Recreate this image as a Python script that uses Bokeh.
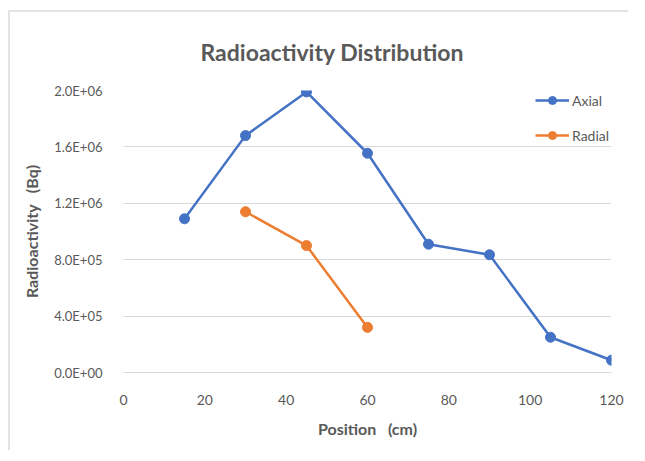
from bokeh.plotting import figure
from bokeh.models import FixedTicker, CustomJSTickFormatter, Legend, LegendItem, Range1d
from bokeh.embed import file_html
from bokeh.resources import INLINE

axial_x = [15, 30, 45, 60, 75, 90, 105, 120]
axial_y = [1.09e6, 1.68e6, 1.99e6, 1.555e6, 0.91e6, 0.835e6, 0.25e6, 0.087e6]
radial_x = [30, 45, 60]
radial_y = [1.14e6, 0.90e6, 0.32e6]
x_ticks = [0, 20, 40, 60, 80, 100, 120]
y_ticks = [0, 4e5, 8e5, 1.2e6, 1.6e6, 2.0e6]

FONT = "Lato"
GRAY = "#595959"

p = figure(width=620, height=440, output_backend="svg", toolbar_location=None,
           x_range=Range1d(0, 120), y_range=Range1d(0, 2.0e6),
           min_border_left=113, min_border_right=19, min_border_top=78, min_border_bottom=80)
p.outline_line_color = None
p.margin = (10, 0, 0, 8)
p.styles = {"border-left": "2px solid #e3e3e3", "border-top": "2px solid #e3e3e3"}

p.title.text = "Radioactivity Distribution"
p.title.align = "left"
p.title.text_font = FONT
p.title.text_font_size = "23px"
p.title.text_color = GRAY
p.title.text_font_style = "bold"
p.title.vertical_align = "top"
p.title.offset = 77
p.title.standoff = 45

fmt = CustomJSTickFormatter(code="""
const s = tick.toExponential(1).toUpperCase();
const parts = s.split("E");
const sign = parts[1][0];
const d = parts[1].slice(1).padStart(2, "0");
return parts[0] + "E" + sign + d;
""")

p.xaxis.ticker = FixedTicker(ticks=x_ticks)
p.yaxis.ticker = FixedTicker(ticks=y_ticks)
p.yaxis.formatter = fmt
for ax in (p.xaxis[0], p.yaxis[0]):
    ax.major_tick_line_color = None
    ax.minor_tick_line_color = None
    ax.major_label_text_font = FONT
    ax.major_label_text_font_size = "13px"
    ax.major_label_text_color = GRAY
    ax.axis_label_text_font = FONT
    ax.axis_label_text_font_size = "16px"
    ax.axis_label_text_font_style = "bold"
    ax.axis_label_text_color = GRAY
p.xaxis.major_label_text_font_size = "14px"
p.xaxis.axis_line_color = "#d9d9d9"
p.yaxis.axis_line_color = None
p.xaxis.axis_label = "Position\u00a0\u00a0\u00a0(cm)"
p.yaxis.axis_label = "Radioactivity\u00a0\u00a0\u00a0(Bq)"
p.xaxis.major_label_standoff = 16
p.yaxis.major_label_standoff = 15
p.xaxis.axis_label_standoff = 11
p.yaxis.axis_label_standoff = 10

p.xgrid.grid_line_color = None
p.ygrid.grid_line_color = "#d9d9d9"

la = p.line(axial_x, axial_y, line_color="#4472C4", line_width=2.5)
ca = p.scatter(axial_x, axial_y, size=10, fill_color="#4472C4", line_color="#4472C4")
lr = p.line(radial_x, radial_y, line_color="#ED7D31", line_width=2.5)
cr = p.scatter(radial_x, radial_y, size=10, fill_color="#ED7D31", line_color="#ED7D31")

legend = Legend(items=[LegendItem(label="Axial", renderers=[la, ca]),
                       LegendItem(label="Radial", renderers=[lr, cr])],
                location=(412, 227))
legend.border_line_color = None
legend.background_fill_alpha = 0
legend.label_text_font = FONT
legend.label_text_font_size = "14px"
legend.label_text_color = GRAY
legend.glyph_width = 34
legend.spacing = 15
legend.margin = 0
legend.padding = 0
legend.label_standoff = 3
p.add_layout(legend)

open("out.html", "w").write(file_html(p, INLINE))
